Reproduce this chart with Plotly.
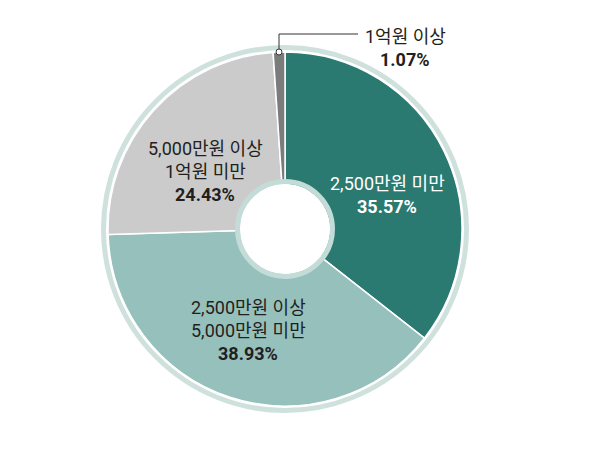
import plotly.graph_objects as go

categories = ["2,500만원 미만", "2,500만원 이상<br>5,000만원 미만", "5,000만원 이상<br>1억원 미만", "1억원 이상"]
values = [35.57, 38.93, 24.43, 1.07]
colors = ["#2a7a72", "#96c0bb", "#cbcbcb", "#7b7b7b"]
text_colors = ["#ffffff", "#231f20", "#231f20", "#231f20"]

W, H = 600, 451
cx, cy, R = 285, 229, 177

def px(x):
    return x / W

def py(y):
    return 1 - y / H

fig = go.Figure()
fig.add_trace(go.Pie(
    values=values,
    labels=categories,
    sort=False,
    direction="clockwise",
    rotation=0,
    hole=44.5 / R,
    marker=dict(colors=colors, line=dict(color="white", width=1.5)),
    textinfo="none",
    hoverinfo="skip",
    showlegend=False,
    domain=dict(x=[px(cx - R), px(cx + R)], y=[py(cy + R), py(cy - R)]),
))

ring_col = "#cfe1dd"
shapes = [
    dict(type="circle", xref="paper", yref="paper",
         x0=px(cx - 181.5), x1=px(cx + 181.5), y0=py(cy + 181.5), y1=py(cy - 181.5),
         line=dict(color=ring_col, width=5), layer="above"),
    dict(type="circle", xref="paper", yref="paper",
         x0=px(cx - 47.5), x1=px(cx + 47.5), y0=py(cy + 47.5), y1=py(cy - 47.5),
         line=dict(color="#c4dcd7", width=5), layer="above"),
    dict(type="path", xref="paper", yref="paper",
         path=f"M {px(279)} {py(49)} L {px(279)} {py(34)} L {px(358)} {py(34)}",
         line=dict(color="#333333", width=1), layer="above"),
    dict(type="circle", xref="paper", yref="paper",
         x0=px(276), x1=px(282), y0=py(55), y1=py(49),
         fillcolor="white", line=dict(color="#333333", width=1), layer="above"),
]

# (x center, y of first line) in pixels, line spacing 23 px
label_pos = [(387, 183), (248, 307), (205, 148), (405, 36)]
font = "Roboto, Noto Sans CJK KR"
annotations = []
for cat, v, (x, y), tc in zip(categories, values, label_pos, text_colors):
    lines = cat.split("<br>") + [f"<b>{v:.2f}%</b>"]
    for i, line in enumerate(lines):
        annotations.append(dict(
            x=px(x), y=py(y + 23 * i), xref="paper", yref="paper",
            text=line, showarrow=False,
            xanchor="center", yanchor="middle", align="center",
            font=dict(family=font, size=18, color=tc),
        ))

fig.update_layout(
    width=W, height=H,
    margin=dict(l=0, r=0, t=0, b=0),
    paper_bgcolor="white", plot_bgcolor="white",
    shapes=shapes, annotations=annotations,
)
fig.write_html("out.html", config={"displayModeBar": False},
               post_script="document.body.style.margin='0px';")
